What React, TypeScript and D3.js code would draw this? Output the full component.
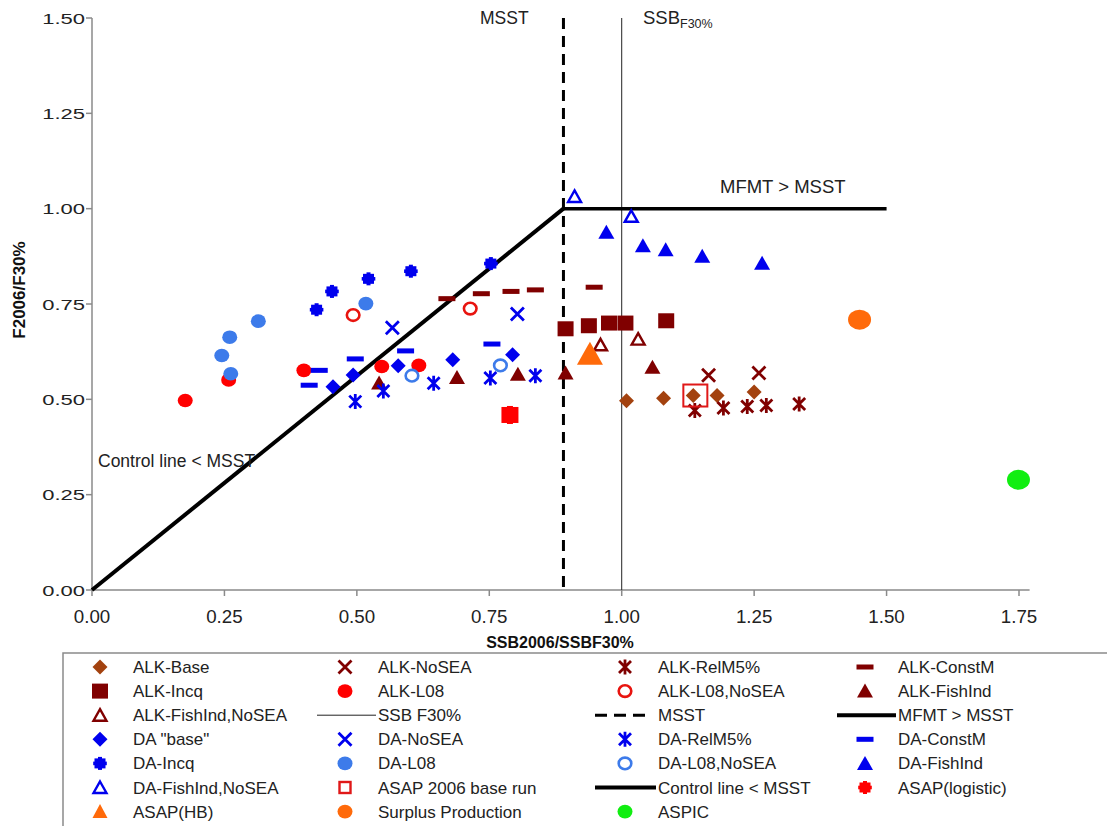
import React from "react";
import * as d3 from "d3";

// ---------- data ----------
const xTicks = [0, 0.25, 0.5, 0.75, 1.0, 1.25, 1.5, 1.75];
const yTicks = [0, 0.25, 0.5, 0.75, 1.0, 1.25, 1.5];

const msst = 0.89;
const ssbF30 = 1.0;
const controlLineX = [0, 0.89];
const controlLineY = [0, 1.0];
const mfmtX = [0.89, 1.5];
const mfmtY = [1.0, 1.0];

const alkBaseX = [1.009, 1.079, 1.135, 1.18, 1.25];
const alkBaseY = [0.496, 0.503, 0.51, 0.51, 0.519];
const alkNoSeaX = [1.164, 1.259];
const alkNoSeaY = [0.563, 0.569];
const alkRelM5X = [1.138, 1.192, 1.237, 1.273, 1.335];
const alkRelM5Y = [0.471, 0.477, 0.481, 0.484, 0.488];
const alkConstMX = [0.67, 0.735, 0.791, 0.837, 0.948];
const alkConstMY = [0.764, 0.777, 0.783, 0.787, 0.794];
const alkIncqX = [0.894, 0.938, 0.976, 1.007, 1.084];
const alkIncqY = [0.685, 0.693, 0.7, 0.7, 0.706];
const alkL08X = [0.176, 0.258, 0.4, 0.547, 0.617];
const alkL08Y = [0.497, 0.551, 0.576, 0.586, 0.589];
const alkL08NoSeaX = [0.493, 0.714];
const alkL08NoSeaY = [0.721, 0.738];
const alkFishIndX = [0.542, 0.689, 0.804, 0.894, 1.058];
const alkFishIndY = [0.543, 0.557, 0.566, 0.569, 0.584];
const alkFishIndNoSeaX = [0.96, 1.031];
const alkFishIndNoSeaY = [0.643, 0.658];
const daBaseX = [0.455, 0.493, 0.578, 0.681, 0.794];
const daBaseY = [0.533, 0.564, 0.588, 0.604, 0.617];
const daNoSeaX = [0.567, 0.803];
const daNoSeaY = [0.688, 0.724];
const daRelM5X = [0.497, 0.55, 0.645, 0.752, 0.837];
const daRelM5Y = [0.494, 0.522, 0.542, 0.556, 0.562];
const daConstMX = [0.41, 0.429, 0.497, 0.592, 0.755];
const daConstMY = [0.537, 0.576, 0.606, 0.627, 0.645];
const daIncqX = [0.424, 0.453, 0.522, 0.602, 0.753];
const daIncqY = [0.735, 0.783, 0.816, 0.836, 0.856];
const daL08X = [0.245, 0.26, 0.262, 0.314, 0.517];
const daL08Y = [0.615, 0.663, 0.567, 0.705, 0.751];
const daL08NoSeaX = [0.604, 0.771];
const daL08NoSeaY = [0.562, 0.589];
const daFishIndX = [0.971, 1.04, 1.083, 1.152, 1.265];
const daFishIndY = [0.938, 0.903, 0.892, 0.875, 0.857];
const daFishIndNoSeaX = [0.911, 1.018];
const daFishIndNoSeaY = [1.032, 0.98];
const asapBaseX = [1.139];
const asapBaseY = [0.51];
const asapLogisticX = [0.789];
const asapLogisticY = [0.459];
const asapHBX = [0.94];
const asapHBY = [0.617];
const surplusX = [1.449];
const surplusY = [0.709];
const aspicX = [1.749];
const aspicY = [0.289];

// ---------- styles ----------
const FONT = "'Liberation Sans', Arial, sans-serif";
const DARKRED = "#800000";
const BROWN = "#A3420F";
const BLUE = "#0000EE";
const LBLUE = "#3D7BEA";
const RED = "#FF0000";
const ORANGE = "#FF6A0A";
const GREEN = "#11EE11";

type Shape =
  | "diamond" | "square" | "circle" | "ocircle" | "triangle" | "otriangle"
  | "x" | "asterisk" | "dash" | "notchsq" | "bigsq" | "osquare" | "bigtri" | "bigcircle";

function Marker({ shape, cx, cy, color, legend = false }: { shape: Shape; cx: number; cy: number; color: string; legend?: boolean }) {
  const t = `translate(${cx},${cy})`;
  switch (shape) {
    case "diamond":
      return <path transform={t} d="M0,-7.5L7.5,0L0,7.5L-7.5,0Z" fill={color} />;
    case "square":
      return <rect transform={t} x={-8} y={-7.5} width={16} height={15} fill={color} />;
    case "circle":
      return <ellipse transform={t} rx={7.5} ry={6.8} fill={color} />;
    case "ocircle":
      return <ellipse transform={t} rx={6.3} ry={5.8} fill="white" stroke={color} strokeWidth={2.6} />;
    case "triangle":
      return <path transform={t} d="M0,-7.5L8,6.5L-8,6.5Z" fill={color} />;
    case "otriangle":
      return <path transform={t} d="M0,-6L6.5,5.5L-6.5,5.5Z" fill="white" stroke={color} strokeWidth={2.4} strokeLinejoin="miter" />;
    case "x":
      return <path transform={t} d="M-6.5,-6.5L6.5,6.5M-6.5,6.5L6.5,-6.5" stroke={color} strokeWidth={2.8} fill="none" />;
    case "asterisk":
      return <path transform={t} d="M-6,-6L6,6M-6,6L6,-6M0,-7.5L0,7.5" stroke={color} strokeWidth={2.8} fill="none" />;
    case "dash":
      return <rect transform={t} x={-8.5} y={-2.5} width={17} height={5} fill={color} />;
    case "notchsq":
      return (
        <g transform={t} fill={color}>
          <rect x={-5.5} y={-5} width={11} height={10} />
          <rect x={-2} y={-6.5} width={4} height={13} />
          <rect x={-6.8} y={-1.8} width={13.6} height={3.6} />
        </g>
      );
    case "bigsq":
      return legend ? (
        <g transform={t} fill={color}>
          <rect x={-5.5} y={-5} width={11} height={10} />
          <rect x={-2} y={-6.5} width={4} height={13} />
          <rect x={-6.8} y={-1.8} width={13.6} height={3.6} />
        </g>
      ) : (
        <g transform={t} fill={color}>
          <rect x={-8.5} y={-8} width={17} height={16} />
          <rect x={-3} y={-9} width={6} height={18} />
        </g>
      );
    case "osquare":
      return legend ? (
        <rect transform={t} x={-5.5} y={-5.5} width={11} height={11} fill="white" stroke={color} strokeWidth={2.4} />
      ) : (
        <rect transform={t} x={-12} y={-11} width={24} height={22} fill="none" stroke={color} strokeWidth={2} />
      );
    case "bigtri":
      return legend ? (
        <path transform={t} d="M0,-7.5L7.5,6.5L-7.5,6.5Z" fill={color} />
      ) : (
        <path transform={t} d="M0,-13L13,10L-13,10Z" fill={color} />
      );
    case "bigcircle":
      return legend ? (
        <ellipse transform={t} rx={7.5} ry={6.8} fill={color} />
      ) : (
        <ellipse transform={t} rx={11.5} ry={10} fill={color} />
      );
  }
  return null;
}

type Series = { name: string; xs: number[]; ys: number[]; shape: Shape; color: string };

const seriesList: Series[] = [
  { name: "ALK-Base", xs: alkBaseX, ys: alkBaseY, shape: "diamond", color: BROWN },
  { name: "ALK-NoSEA", xs: alkNoSeaX, ys: alkNoSeaY, shape: "x", color: DARKRED },
  { name: "ALK-RelM5%", xs: alkRelM5X, ys: alkRelM5Y, shape: "asterisk", color: DARKRED },
  { name: "ALK-ConstM", xs: alkConstMX, ys: alkConstMY, shape: "dash", color: DARKRED },
  { name: "ALK-Incq", xs: alkIncqX, ys: alkIncqY, shape: "square", color: DARKRED },
  { name: "ALK-L08", xs: alkL08X, ys: alkL08Y, shape: "circle", color: RED },
  { name: "ALK-L08,NoSEA", xs: alkL08NoSeaX, ys: alkL08NoSeaY, shape: "ocircle", color: "#E8140F" },
  { name: "ALK-FishInd", xs: alkFishIndX, ys: alkFishIndY, shape: "triangle", color: DARKRED },
  { name: "ALK-FishInd,NoSEA", xs: alkFishIndNoSeaX, ys: alkFishIndNoSeaY, shape: "otriangle", color: DARKRED },
  { name: "DA \"base\"", xs: daBaseX, ys: daBaseY, shape: "diamond", color: BLUE },
  { name: "DA-NoSEA", xs: daNoSeaX, ys: daNoSeaY, shape: "x", color: BLUE },
  { name: "DA-RelM5%", xs: daRelM5X, ys: daRelM5Y, shape: "asterisk", color: BLUE },
  { name: "DA-ConstM", xs: daConstMX, ys: daConstMY, shape: "dash", color: BLUE },
  { name: "DA-Incq", xs: daIncqX, ys: daIncqY, shape: "notchsq", color: BLUE },
  { name: "DA-L08", xs: daL08X, ys: daL08Y, shape: "circle", color: LBLUE },
  { name: "DA-L08,NoSEA", xs: daL08NoSeaX, ys: daL08NoSeaY, shape: "ocircle", color: LBLUE },
  { name: "DA-FishInd", xs: daFishIndX, ys: daFishIndY, shape: "triangle", color: BLUE },
  { name: "DA-FishInd,NoSEA", xs: daFishIndNoSeaX, ys: daFishIndNoSeaY, shape: "otriangle", color: BLUE },
  { name: "ASAP 2006 base run", xs: asapBaseX, ys: asapBaseY, shape: "osquare", color: "#E01818" },
  { name: "ASAP(logistic)", xs: asapLogisticX, ys: asapLogisticY, shape: "bigsq", color: RED },
  { name: "ASAP(HB)", xs: asapHBX, ys: asapHBY, shape: "bigtri", color: ORANGE },
  { name: "Surplus Production", xs: surplusX, ys: surplusY, shape: "bigcircle", color: ORANGE },
  { name: "ASPIC", xs: aspicX, ys: aspicY, shape: "bigcircle", color: GREEN },
];

// legend layout (row-major, 4 columns)
type LegendItem =
  | { kind: "marker"; name: string }
  | { kind: "line"; name: string; style: "thin" | "dashed" | "thick" };

const legendItems: LegendItem[] = [
  { kind: "marker", name: "ALK-Base" },
  { kind: "marker", name: "ALK-NoSEA" },
  { kind: "marker", name: "ALK-RelM5%" },
  { kind: "marker", name: "ALK-ConstM" },
  { kind: "marker", name: "ALK-Incq" },
  { kind: "marker", name: "ALK-L08" },
  { kind: "marker", name: "ALK-L08,NoSEA" },
  { kind: "marker", name: "ALK-FishInd" },
  { kind: "marker", name: "ALK-FishInd,NoSEA" },
  { kind: "line", name: "SSB F30%", style: "thin" },
  { kind: "line", name: "MSST", style: "dashed" },
  { kind: "line", name: "MFMT > MSST", style: "thick" },
  { kind: "marker", name: "DA \"base\"" },
  { kind: "marker", name: "DA-NoSEA" },
  { kind: "marker", name: "DA-RelM5%" },
  { kind: "marker", name: "DA-ConstM" },
  { kind: "marker", name: "DA-Incq" },
  { kind: "marker", name: "DA-L08" },
  { kind: "marker", name: "DA-L08,NoSEA" },
  { kind: "marker", name: "DA-FishInd" },
  { kind: "marker", name: "DA-FishInd,NoSEA" },
  { kind: "marker", name: "ASAP 2006 base run" },
  { kind: "line", name: "Control line < MSST", style: "thick" },
  { kind: "marker", name: "ASAP(logistic)" },
  { kind: "marker", name: "ASAP(HB)" },
  { kind: "marker", name: "Surplus Production" },
  { kind: "marker", name: "ASPIC" },
];

export default function App() {
  const W = 1107, H = 826;
  const x = d3.scaleLinear().domain([0, 1.75]).range([92, 1019]);
  const y = d3.scaleLinear().domain([0, 1.5]).range([590, 18]);
  const line = d3.line<[number, number]>().x((d) => x(d[0])).y((d) => y(d[1]));

  const controlPts: [number, number][] = controlLineX.map((v, i) => [v, controlLineY[i]]);
  const mfmtPts: [number, number][] = mfmtX.map((v, i) => [v, mfmtY[i]]);

  const colMarkerX = [100, 345, 625, 865];
  const colTextX = [133, 378, 658, 898];
  const lineStart = [70, 317, 595, 837];
  const rowY0 = 667, rowDy = 24.1;

  const axisColor = "#8a8a8a";

  return (
    <svg width={W} height={H} style={{ position: "absolute", left: 0, top: 0, background: "white" }} fontFamily={FONT}>
      <rect x={0} y={0} width={W} height={H} fill="white" />
      {/* axes */}
      <line x1={x(0)} x2={x(0)} y1={y(1.5)} y2={y(0)} stroke={axisColor} strokeWidth={1.5} />
      <line x1={x(0)} x2={x(1.77)} y1={y(0)} y2={y(0)} stroke={axisColor} strokeWidth={1.5} />
      {yTicks.map((t) => (
        <g key={"yt" + t}>
          <line x1={x(0) - 6} x2={x(0)} y1={y(t)} y2={y(t)} stroke={axisColor} strokeWidth={1.5} />
          <text transform={`translate(85,${y(t) + 5.5}) scale(1.42,1)`} textAnchor="end" fontSize={15.5} fill="#222">
            {d3.format(".2f")(t)}
          </text>
        </g>
      ))}
      {xTicks.map((t) => (
        <g key={"xt" + t}>
          <line x1={x(t)} x2={x(t)} y1={y(0)} y2={y(0) + 6} stroke={axisColor} strokeWidth={1.5} />
          <text transform={`translate(${x(t)},623) scale(1.07,1)`} textAnchor="middle" fontSize={17.5} fill="#222">
            {d3.format(".2f")(t)}
          </text>
        </g>
      ))}
      {/* axis titles */}
      <text x={560} y={648} textAnchor="middle" fontSize={16} fontWeight="bold" fill="#111">
        SSB2006/SSBF30%
      </text>
      <text transform={`translate(25,290) rotate(-90)`} textAnchor="middle" fontSize={17} fontWeight="bold" fill="#111">
        F2006/F30%
      </text>

      {/* reference lines */}
      <line x1={x(ssbF30)} x2={x(ssbF30)} y1={y(1.5)} y2={y(0)} stroke="#222" strokeWidth={1} />
      <line x1={x(msst)} x2={x(msst)} y1={y(1.5)} y2={y(0)} stroke="#000" strokeWidth={3} strokeDasharray="11,7" />
      <path d={line(controlPts) || ""} stroke="#000" strokeWidth={4} fill="none" />
      <path d={line(mfmtPts) || ""} stroke="#000" strokeWidth={3.5} fill="none" />

      {/* annotations */}
      <text x={480} y={24} fontSize={17.5} fill="#222">MSST</text>
      <text x={643} y={24} fontSize={18.5} fill="#222">
        SSB<tspan fontSize={12.5} dy={4}>F30%</tspan>
      </text>
      <text x={720} y={193} fontSize={18.5} fill="#222">MFMT &gt; MSST</text>
      <text x={98} y={467} fontSize={17.5} fill="#222">Control line &lt; MSST</text>

      {/* data points */}
      {seriesList.map((s) => (
        <g key={s.name}>
          {s.xs.map((xv, i) => (
            <Marker key={i} shape={s.shape} cx={x(xv)} cy={y(s.ys[i])} color={s.color} />
          ))}
        </g>
      ))}

      {/* legend */}
      <rect x={63} y={653} width={1060} height={200} fill="white" stroke={axisColor} strokeWidth={1.5} />
      {legendItems.map((it, idx) => {
        const col = idx % 4;
        const row = Math.floor(idx / 4);
        const cy = rowY0 + row * rowDy;
        const tx = colTextX[col];
        let sym: React.ReactNode = null;
        if (it.kind === "marker") {
          const s = seriesList.find((q) => q.name === it.name)!;
          sym = <Marker shape={s.shape} cx={colMarkerX[col]} cy={cy} color={s.color} legend />;
        } else {
          const x1 = lineStart[col];
          const x2 = tx - 2;
          if (it.style === "thin") sym = <line x1={x1} x2={x2} y1={cy} y2={cy} stroke="#222" strokeWidth={1} />;
          else if (it.style === "dashed") sym = <line x1={x1} x2={x2 - 8} y1={cy} y2={cy} stroke="#000" strokeWidth={3} strokeDasharray="12,7" />;
          else sym = <line x1={x1} x2={x2} y1={cy} y2={cy} stroke="#000" strokeWidth={4} />;
        }
        return (
          <g key={"lg" + idx}>
            {sym}
            <text x={tx} y={cy + 6} fontSize={17} fill="#222">
              {it.name}
            </text>
          </g>
        );
      })}
    </svg>
  );
}
